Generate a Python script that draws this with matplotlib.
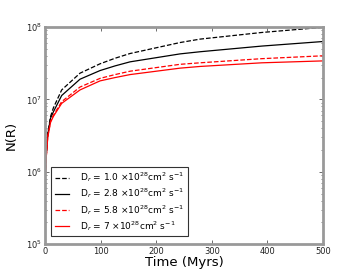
import numpy as np
import matplotlib
matplotlib.use('Agg')
import matplotlib.pyplot as plt

# values (time in Myrs, N(R))
time_myr = [0, 2, 5, 10, 15, 30, 63, 99, 126, 153, 243, 279, 390, 500]
n_d10 = [7.0e5, 1.6e6, 3.4e6, 5.8e6, 7.6e6, 1.35e7, 2.3e7, 3.1e7, 3.7e7, 4.3e7, 6.1e7, 6.8e7, 8.4e7, 9.9e7]
n_d28 = [7.0e5, 1.6e6, 3.3e6, 5.5e6, 6.7e6, 1.13e7, 1.9e7, 2.5e7, 2.9e7, 3.3e7, 4.25e7, 4.55e7, 5.45e7, 6.3e7]
n_d58 = [7.0e5, 1.5e6, 3.1e6, 5.0e6, 6.0e6, 9.3e6, 1.48e7, 1.95e7, 2.2e7, 2.45e7, 3.05e7, 3.2e7, 3.65e7, 4.0e7]
n_d70 = [7.0e5, 1.5e6, 3.0e6, 4.8e6, 5.8e6, 8.8e6, 1.35e7, 1.8e7, 2.0e7, 2.2e7, 2.7e7, 2.85e7, 3.2e7, 3.4e7]

labels = [r'D$_r$ = 1.0 $\times 10^{28}$cm$^2$ s$^{-1}$',
          r'D$_r$ = 2.8 $\times 10^{28}$cm$^2$ s$^{-1}$',
          r'D$_r$ = 5.8 $\times 10^{28}$cm$^2$ s$^{-1}$',
          r'D$_r$ = 7 $\times 10^{28}$cm$^2$ s$^{-1}$']

fig = plt.figure(figsize=(3.6, 2.7), dpi=100)
ax = fig.add_axes([0.125, 0.096, 0.772, 0.804])

ax.plot(time_myr, n_d10, color='k', ls='--', lw=0.9, label=labels[0])
ax.plot(time_myr, n_d28, color='k', ls='-', lw=0.9, label=labels[1])
ax.plot(time_myr, n_d58, color='r', ls='--', lw=0.9, label=labels[2])
ax.plot(time_myr, n_d70, color='r', ls='-', lw=0.9, label=labels[3])

ax.set_yscale('log')
ax.set_xlim(0, 500)
ax.set_ylim(1e5, 1e8)
ax.set_xticks([0, 100, 200, 300, 400, 500])

for s in ax.spines.values():
    s.set_color('#999999')
    s.set_linewidth(2)
ax.tick_params(which='both', direction='in', top=True, right=True,
               color='#555555', labelsize=6, labelcolor='#222222', pad=2)
ax.tick_params(which='major', length=3, width=0.6)
ax.tick_params(which='minor', length=1.5, width=0.5)

ax.set_xlabel('Time (Myrs)', fontsize=9.5, labelpad=0)
ax.set_ylabel('N(R)', fontsize=9.5, labelpad=6)

leg = ax.legend(loc='lower left', fontsize=6.5, fancybox=False,
                handlelength=1.6, borderpad=0.4, labelspacing=0.25,
                handletextpad=1.2, bbox_to_anchor=(0.005, 0.015))
leg.get_frame().set_edgecolor('k')
leg.get_frame().set_linewidth(0.8)

fig.savefig('out.png', dpi=100)
